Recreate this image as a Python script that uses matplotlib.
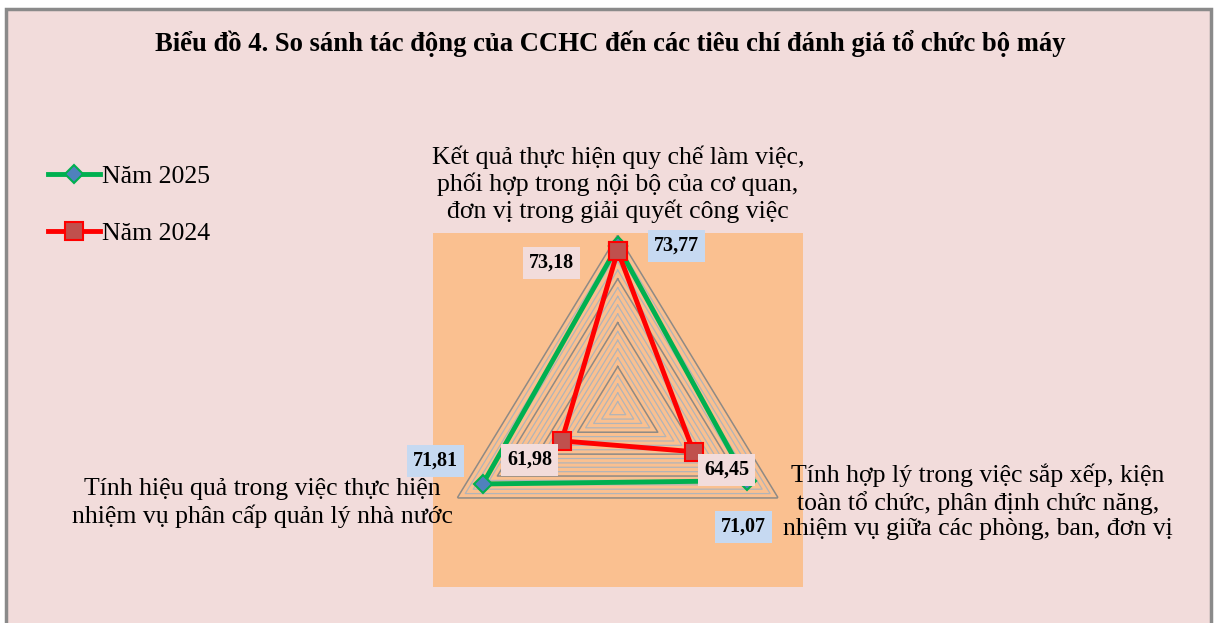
import numpy as np
import matplotlib
matplotlib.use("Agg")
import matplotlib.pyplot as plt
from matplotlib.patches import Rectangle

# ---------------- data ----------------
title = "Biểu đồ 4. So sánh tác động của CCHC đến các tiêu chí đánh giá tổ chức bộ máy"
categories = [
    "Kết quả thực hiện quy chế làm việc,\nphối hợp trong nội bộ của cơ quan,\nđơn vị trong giải quyết công việc",
    "Tính hợp lý trong việc sắp xếp, kiện\ntoàn tổ chức, phân định chức năng,\nnhiệm vụ giữa các phòng, ban, đơn vị",
    "Tính hiệu quả trong việc thực hiện\nnhiệm vụ phân cấp quản lý nhà nước",
]
series_names = ["Năm 2025", "Năm 2024"]
values_2025 = [73.77, 71.07, 71.81]
values_2024 = [73.18, 64.45, 61.98]
r_min, r_max = 55, 75
major_step = 5
minor_step = 1

# ---------------- figure ----------------
W, H = 1216, 623
fig = plt.figure(figsize=(W / 100, H / 100), dpi=100)
fig.patch.set_facecolor("white")
plt.rcParams["font.family"] = ["Liberation Serif", "DejaVu Serif"]

def fbox(x0, y0, x1, y1):
    """pixel box (top-left origin) -> figure fraction [l, b, w, h]"""
    return [x0 / W, 1 - y1 / H, (x1 - x0) / W, (y1 - y0) / H]

# chart area (pink) with gray border
l, b, w, h = fbox(6, 9, 1211, 660)
fig.add_artist(Rectangle((l, b), w, h, transform=fig.transFigure,
                         facecolor="#F2DCDB", edgecolor="#8A8A8A", lw=2.5, zorder=-3))
# plot area (orange)
l, b, w, h = fbox(433, 233, 803, 587)
fig.add_artist(Rectangle((l, b), w, h, transform=fig.transFigure,
                         facecolor="#FAC090", edgecolor="none", zorder=-2))

fig.text(610 / W, 1 - 43 / H, title, ha="center", va="center",
         fontsize=19.2, fontweight="bold", color="black")

# ---------------- radar axes ----------------
ax = fig.add_axes(fbox(432.4, 235, 803, 585.6), projection="polar")
ax.set_zorder(1)
ax.set_aspect("auto")
ax.patch.set_alpha(0)
ax.set_theta_offset(np.pi / 2)
ax.set_theta_direction(-1)
ax.set_ylim(r_min, r_max)
ax.grid(False)
ax.set_xticks([])
ax.set_yticks([])
ax.spines["polar"].set_visible(False)

n = len(categories)
theta = np.arange(n) * 2 * np.pi / n
theta_c = np.append(theta, theta[0])

# triangular gridlines
levels = np.arange(r_min + minor_step, r_max + minor_step / 2, minor_step)
for lev in levels:
    is_major = abs((lev - r_min) % major_step) < 1e-9
    ax.plot(theta_c, [lev] * (n + 1),
            color="#8E8A86" if is_major else "#B2B4B8",
            lw=1.1 if is_major else 0.9, zorder=1)

v25 = np.append(values_2025, values_2025[0])
v24 = np.append(values_2024, values_2024[0])
l25, = ax.plot(theta_c, v25, color="#00B050", lw=3.5, marker="D", ms=9.5,
               mfc="#4F81BD", mec="#00B050", mew=1.5, zorder=4, clip_on=False,
               label=series_names[0])
l24, = ax.plot(theta_c, v24, color="#FF0000", lw=3.5, marker="s", ms=13.5,
               mfc="#C0504D", mec="#FF0000", mew=1.5, zorder=5, clip_on=False,
               label=series_names[1])

def fmt(v):
    return f"{v:.2f}".replace(".", ",")

off_25 = [(59, 0), (-3, -46), (-47, 23)]
off_24 = [(-66, -12), (33, -18), (-32, -19)]
for i in range(n):
    ax.annotate(fmt(values_2025[i]), (theta[i], values_2025[i]),
                xytext=off_25[i], textcoords="offset pixels",
                ha="center", va="center", fontsize=14.5, fontweight="bold",
                bbox=dict(boxstyle="square,pad=0.3", fc="#C6D9F1", ec="none"),
                zorder=6, annotation_clip=False)
    ax.annotate(fmt(values_2024[i]), (theta[i], values_2024[i]),
                xytext=off_24[i], textcoords="offset pixels",
                ha="center", va="center", fontsize=14.5, fontweight="bold",
                bbox=dict(boxstyle="square,pad=0.3", fc="#F2DCDB", ec="none"),
                zorder=6, annotation_clip=False)

# category labels
cat_pos = [(618, 184), (978, 502), (262, 503)]
for txt, (px, py) in zip(categories, cat_pos):
    fig.text(px / W, 1 - py / H, txt, ha="center", va="center",
             fontsize=18.5, linespacing=1.19, color="black")

# legend
fig.legend(handles=[l25, l24], labels=series_names,
           loc="upper left", bbox_to_anchor=(38 / W, 1 - 155 / H),
           frameon=False, fontsize=18.5, handlelength=2.0, handletextpad=0.1,
           labelspacing=1.3, borderaxespad=0)

fig.savefig("out.png", dpi=100)
